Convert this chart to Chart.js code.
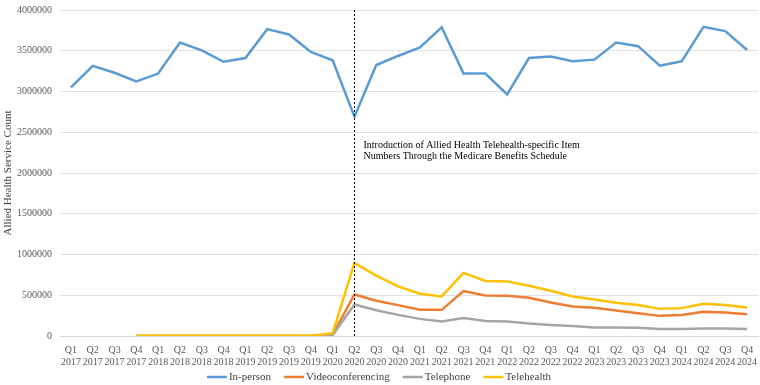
<!DOCTYPE html>
<html lang="en">
<head>
<meta charset="UTF-8">
<title>Allied Health Service Count</title>
<script src="https://cdn.jsdelivr.net/npm/chart.js@4"></script>
<style>
    body { margin: 0; background: #fff; }
    #wrap { width: 760px; height: 385px; }
</style>
</head>
<body>
<div id="wrap"><canvas id="chart"></canvas></div>
<script>
const quarters = [];
for (let y = 2017; y <= 2024; y++) {
    for (let q = 1; q <= 4; q++) quarters.push(['Q' + q, String(y)]);
}

const inPerson = [3050000, 3315000, 3230000, 3125000, 3220000, 3600000, 3505000, 3365000,
    3410000, 3765000, 3700000, 3485000, 3383000, 2690000, 3325000, 3436000,
    3540000, 3786000, 3220000, 3220000, 2963000, 3411000, 3428000, 3370000,
    3391000, 3601000, 3556000, 3317000, 3370000, 3794000, 3741000, 3510000];

const video = [null, null, null, 1000, 1000, 1000, 1000, 1000,
    1000, 1000, 1000, 1000, 18000, 510000, 432000, 379000,
    321000, 321000, 551000, 497000, 494000, 469000, 411000, 362000,
    346000, 313000, 280000, 247000, 259000, 296000, 288000, 268000];

const telephone = [null, null, null, 1000, 1000, 1000, 1000, 1000,
    1000, 1000, 1000, 1000, 10000, 386000, 317000, 259000,
    210000, 177000, 222000, 185000, 177000, 152000, 136000, 123000,
    103000, 103000, 100000, 86000, 86000, 93000, 93000, 86000];

const telehealth = [null, null, null, 2000, 2000, 2000, 2000, 2000,
    2000, 2000, 2000, 2000, 34000, 897000, 741000, 609000,
    519000, 486000, 774000, 675000, 670000, 617000, 556000, 485000,
    448000, 407000, 379000, 333000, 342000, 395000, 379000, 349000];

const yTicks = { min: 0, max: 4000000, step: 500000 };
const markerIndex = 13;
const markerText = ['Introduction of Allied Health Telehealth-specific Item',
    'Numbers Through the Medicare Benefits Schedule'];

const serif = '"Liberation Serif", "Times New Roman", serif';

// dotted vertical marker + note at Q2 2020
const markerPlugin = {
    id: 'marker',
    afterDatasetsDraw(chart) {
        const { ctx, chartArea, scales } = chart;
        const x = Math.round(scales.x.getPixelForValue(markerIndex)) + 0.5;
        ctx.save();
        ctx.strokeStyle = '#000';
        ctx.lineWidth = 1;
        ctx.setLineDash([2, 2]);
        ctx.beginPath();
        ctx.moveTo(x, chartArea.top);
        ctx.lineTo(x, chartArea.bottom);
        ctx.stroke();
        ctx.setLineDash([]);
        ctx.fillStyle = '#000';
        ctx.font = '10px ' + serif;
        ctx.textBaseline = 'middle';
        const y0 = scales.y.getPixelForValue(2340000);
        markerText.forEach((t, i) => ctx.fillText(t, x + 9, y0 + i * 11.5));
        ctx.restore();
    }
};

// Excel-style legend: short line swatch, tight text, centred under the plot
const legendPlugin = {
    id: 'lineLegend',
    afterDraw(chart) {
        const { ctx, width, height } = chart;
        const sw = 20, gapText = 2, gapItem = 13;
        ctx.save();
        ctx.font = '11px ' + serif;
        ctx.textBaseline = 'middle';
        const items = chart.data.datasets.map(ds => ({
            ds, w: sw + gapText + ctx.measureText(ds.label).width
        }));
        const total = items.reduce((s, it) => s + it.w, 0) + gapItem * (items.length - 1);
        let x = (width - total) / 2 - 1;
        const y = height - 8;
        items.forEach(it => {
            ctx.strokeStyle = it.ds.borderColor;
            ctx.lineWidth = 2.5;
            ctx.beginPath();
            ctx.moveTo(x, y);
            ctx.lineTo(x + sw, y);
            ctx.stroke();
            ctx.fillStyle = '#404040';
            ctx.fillText(it.ds.label, x + sw + gapText, y + 0.5);
            x += it.w + gapItem;
        });
        ctx.restore();
    }
};

const mk = (label, data, color, order) => ({
    label, data, order,
    borderColor: color,
    backgroundColor: color,
    borderWidth: 2.5,
    pointRadius: 0,
    tension: 0,
    fill: false
});

new Chart(document.getElementById('chart'), {
    type: 'line',
    data: {
        labels: quarters,
        datasets: [
            mk('In-person', inPerson, '#5B9BD5', 3),
            mk('Videoconferencing', video, '#ED7D31', 2),
            mk('Telephone', telephone, '#A5A5A5', 1),
            mk('Telehealth', telehealth, '#FFC000', 0)
        ]
    },
    options: {
        responsive: true,
        maintainAspectRatio: false,
        animation: false,
        layout: { padding: { top: 10, right: 2, left: 2, bottom: 17 } },
        plugins: {
            legend: { display: false },
            tooltip: { enabled: false }
        },
        scales: {
            x: {
                offset: true,
                grid: { display: false },
                border: { color: '#d9d9d9' },
                ticks: {
                    autoSkip: false,
                    maxRotation: 0,
                    minRotation: 0,
                    padding: 0,
                    color: '#595959',
                    font: { family: serif, size: 10 }
                }
            },
            y: {
                min: yTicks.min,
                max: yTicks.max,
                afterFit: scale => { scale.width = 58; scale.paddingTop = 0; },
                grid: { color: '#e0e0e0', drawTicks: false },
                border: { display: false },
                title: {
                    display: true,
                    text: 'Allied Health Service Count',
                    color: '#404040',
                    font: { family: serif, size: 11 },
                    padding: { top: 0, bottom: 2 }
                },
                ticks: {
                    stepSize: yTicks.step,
                    padding: 8,
                    color: '#595959',
                    font: { family: serif, size: 10 },
                    callback: v => String(v)
                }
            }
        }
    },
    plugins: [markerPlugin, legendPlugin]
});
</script>
</body>
</html>
